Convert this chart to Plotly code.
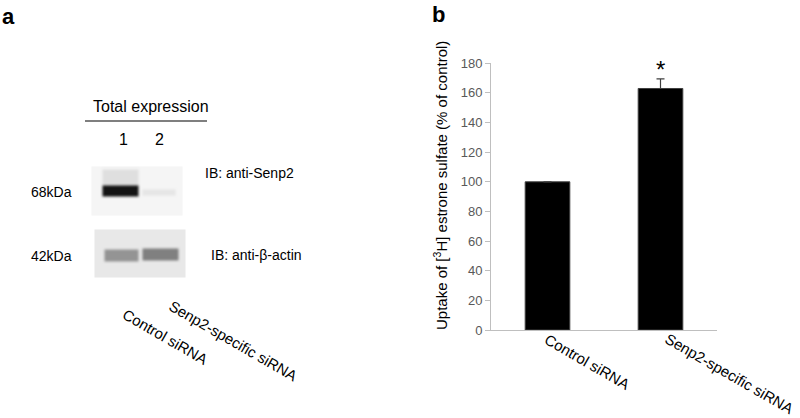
import numpy as np
import plotly.graph_objects as go

# ---------------- data ----------------
lanes = ["1", "2"]
lane_names = ["Control siRNA", "Senp2-specific siRNA"]
senp2_band = [0.92, 0.10]      # relative band darkness per lane (anti-Senp2)
actin_band = [0.42, 0.50]      # relative band darkness per lane (anti-beta-actin)
blot_labels = ["IB: anti-Senp2", "IB: anti-β-actin"]
mw_labels = ["68kDa", "42kDa"]

categories = ["Control siRNA", "Senp2-specific siRNA"]
uptake = [100, 163]
uptake_err = [0, 6.5]
sig_marks = ["", "*"]
y_ticks = [0, 20, 40, 60, 80, 100, 120, 140, 160, 180]

FONT = "Liberation Sans"
H = 418.0

# ---------------- blot image builder ----------------
def blur(z, n=2):
    for _ in range(n):
        p = np.pad(z, 1, mode="edge")
        z = sum(p[1 + dy:1 + dy + z.shape[0], 1 + dx:1 + dx + z.shape[1]]
                for dy in (-1, 0, 1) for dx in (-1, 0, 1)) / 9.0
    return z

def blot(x0, x1, y0, y1, bg, bands):
    xs = np.arange(x0, x1)
    ys = np.arange(y0, y1)
    z = np.full((len(ys), len(xs)), bg, dtype=float)
    for (xa, xb, ya, yb, val) in bands:
        m = (xs[None, :] >= xa) & (xs[None, :] < xb) & (ys[:, None] >= ya) & (ys[:, None] < yb)
        z[m] = np.maximum(z[m], val)
    return xs, ys, blur(z)

lane_x = [(102, 138), (142, 178)]

top_bands = []
# faint smear above lane 1
top_bands.append((lane_x[0][0], lane_x[0][1], 169, 185, 0.05 + senp2_band[0] * 0.08))
top_bands.append((lane_x[0][0], lane_x[0][1], 185, 196, senp2_band[0]))
top_bands.append((lane_x[1][0], lane_x[1][1] - 3, 189, 195, senp2_band[1]))
tx, ty, tz = blot(92, 183, 167, 216, 0.04, top_bands)

bot_bands = [
    (lane_x[0][0] + 2, lane_x[0][1], 249, 261, actin_band[0]),
    (lane_x[1][0], lane_x[1][1], 248, 260, actin_band[1]),
]
bx, by, bz = blot(95, 186, 230, 278, 0.09, bot_bands)

gray = [[0, "white"], [1, "black"]]

fig = go.Figure()
for xs, ys, z in [(tx, ty, tz), (bx, by, bz)]:
    fig.add_trace(go.Heatmap(x=xs, y=ys, z=z, colorscale=gray, zmin=0, zmax=1,
                             showscale=False, zsmooth="best", hoverinfo="skip",
                             xaxis="x2", yaxis="y2"))

# ---------------- bar chart ----------------
fig.add_trace(go.Bar(
    x=categories, y=uptake, width=0.395,
    marker=dict(color="black", line=dict(color="#404040", width=1)),
    error_y=dict(type="data", array=uptake_err, arrayminus=[0, 0], symmetric=False,
                 color="#404040", thickness=1.2, width=4),
    xaxis="x", yaxis="y", hoverinfo="skip", showlegend=False,
))

annotations = []
for c, v, e, s in zip(categories, uptake, uptake_err, sig_marks):
    if s:
        annotations.append(dict(x=c, y=v + e, xref="x", yref="y", text=s, showarrow=False,
                                xanchor="center", yanchor="bottom", yshift=-6,
                                font=dict(family=FONT, size=24, color="black")))

# rotated category labels of panel b
for c, dx, yy in zip(categories, [39.5, 69], [361, 373]):
    annotations.append(dict(x=c, xref="x", y=1 - yy / H, yref="paper", text=c, showarrow=False,
                            xanchor="center", yanchor="middle", xshift=dx, textangle=30,
                            font=dict(family=FONT, size=15, color="black")))

# y-axis title of panel b
annotations.append(dict(x=440 / 800, y=1 - 186 / H, xref="paper", yref="paper",
                        xanchor="center", yanchor="middle",
                        text="Uptake of [<sup>3</sup>H] estrone sulfate (% of control)",
                        textangle=-90, showarrow=False,
                        font=dict(family=FONT, size=15, color="black")))

# panel letters
annotations.append(dict(x=0, y=2, xref="paper", yref="y2", text="<b>a</b>", showarrow=False,
                        xanchor="left", yanchor="top", font=dict(family=FONT, size=22, color="black")))
annotations.append(dict(x=430 / 800, y=1, yref="paper", xref="paper", text="<b>b</b>", showarrow=False,
                        xanchor="left", yanchor="top", font=dict(family=FONT, size=22, color="black")))

# panel a texts
annotations.append(dict(x=151, y=106, xref="x2", yref="y2", text="Total expression", showarrow=False,
                        xanchor="center", yanchor="middle",
                        font=dict(family=FONT, size=16, color="black")))
for lbl, lx in zip(lanes, [123, 159]):
    annotations.append(dict(x=lx, y=139, xref="x2", yref="y2", text=lbl,
                            xanchor="center", yanchor="middle",
                            showarrow=False, font=dict(family=FONT, size=16, color="black")))
for lbl, yy in zip(mw_labels, [192, 256]):
    annotations.append(dict(x=74, y=yy, xref="x2", yref="y2", text=lbl, showarrow=False,
                            xanchor="right", yanchor="middle",
                            font=dict(family=FONT, size=14, color="black")))
for lbl, xx, yy in zip(blot_labels, [203, 209], [173, 255]):
    annotations.append(dict(x=xx, y=yy, xref="x2", yref="y2", text=lbl, showarrow=False,
                            xanchor="left", yanchor="middle",
                            font=dict(family=FONT, size=14, color="black")))
for lbl, cx, cy in zip(lane_names, [165, 233], [336, 340]):
    annotations.append(dict(x=cx, y=cy, xref="x2", yref="y2", text=lbl, showarrow=False,
                            xanchor="center", yanchor="middle",
                            textangle=30, font=dict(family=FONT, size=15, color="black")))

shapes = [dict(type="line", xref="x2", yref="y2", x0=85, x1=207, y0=121, y1=121,
               line=dict(color="black", width=1.2))]

fig.update_layout(
    width=800, height=418,
    margin=dict(l=0, r=0, t=0, b=0),
    paper_bgcolor="white", plot_bgcolor="rgba(0,0,0,0)",
    showlegend=False,
    xaxis=dict(domain=[491 / 800, 717 / 800], range=[-0.5, 1.5], type="category",
               showline=True, linecolor="#bfbfbf", linewidth=1, ticks="",
               showticklabels=False,
               showgrid=False, zeroline=False, fixedrange=True, automargin=False),
    yaxis=dict(domain=[1 - 330 / H, 1 - 63.3 / H], range=[0, 180], tickvals=y_ticks,
               showline=True, linecolor="#bfbfbf", linewidth=1, ticks="outside",
               ticklen=5, tickcolor="#bfbfbf", showgrid=False, zeroline=False,
               tickfont=dict(family=FONT, size=13, color="#595959"),
               fixedrange=True, automargin=False),
    xaxis2=dict(domain=[0, 320 / 800], range=[0, 320], visible=False, fixedrange=True,
                automargin=False),
    yaxis2=dict(domain=[0, 1], range=[418, 0], visible=False, fixedrange=True,
                automargin=False),
    annotations=annotations,
    shapes=shapes,
)

fig.write_html("out.html", config={"displayModeBar": False, "staticPlot": True},
               post_script="document.body.style.margin='0';document.body.style.overflow='hidden';")
